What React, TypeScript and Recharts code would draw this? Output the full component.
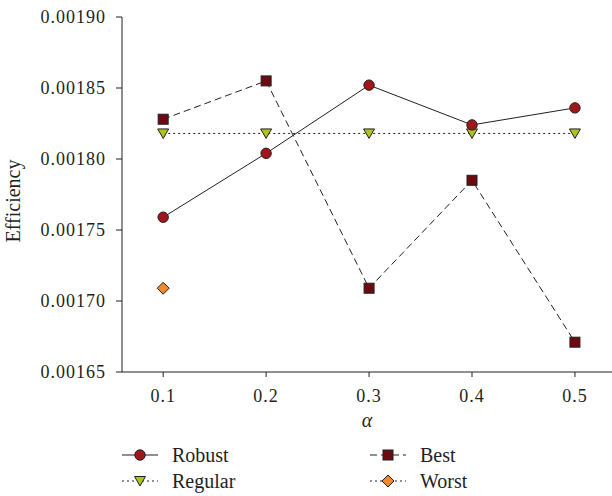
import React from 'react';
import { LineChart, Line, XAxis, YAxis, Legend } from 'recharts';

const alphas = [0.1, 0.2, 0.3, 0.4, 0.5];
const robust = [0.001759, 0.001804, 0.001852, 0.001824, 0.001836];
const best = [0.001828, 0.001855, 0.001709, 0.001785, 0.001671];
const regular = [0.001818, 0.001818, 0.001818, 0.001818, 0.001818];
const worst: (number | null)[] = [0.001709, null, null, null, null];
const yTicks = [0.00165, 0.0017, 0.00175, 0.0018, 0.00185, 0.0019];

const data = alphas.map((a, i) => ({ a, robust: robust[i], best: best[i], regular: regular[i], worst: worst[i] }));

const FONT = '"Liberation Serif", "Times New Roman", serif';
const TXT = '#231f20';
const C_ROBUST = '#a0161d';
const C_BEST = '#6d0a10';
const C_REG = '#aec31f';
const C_WORST = '#f0892a';

const Circle = ({ cx, cy }: any) => <circle cx={cx} cy={cy} r={5.2} fill={C_ROBUST} stroke={TXT} strokeWidth={1} />;
const Square = ({ cx, cy }: any) => <rect x={cx - 5} y={cy - 5} width={10} height={10} fill={C_BEST} stroke={TXT} strokeWidth={1} />;
const Tri = ({ cx, cy }: any) => (
  <polygon points={`${cx - 5.5},${cy - 4.5} ${cx + 5.5},${cy - 4.5} ${cx},${cy + 5}`} fill={C_REG} stroke={TXT} strokeWidth={1} />
);
const Diamond = ({ cx, cy }: any) => (
  <polygon points={`${cx},${cy - 6} ${cx + 6},${cy} ${cx},${cy + 6} ${cx - 6},${cy}`} fill={C_WORST} stroke={TXT} strokeWidth={1} />
);

const mkDot = (Shape: any) => (props: any) => {
  const { cx, cy, index, value } = props;
  if (cx == null || cy == null || value == null) return <g key={`e${index}`} />;
  return <Shape key={`d${index}`} cx={cx} cy={cy} />;
};

const LegendContent = () => {
  const row1 = 15;
  const row2 = 41;
  const item = (x0: number, y: number, dash: string | undefined, Shape: any, label: string) => (
    <g>
      <line x1={x0} x2={x0 + 36} y1={y} y2={y} stroke={TXT} strokeWidth={1} strokeDasharray={dash} />
      <Shape cx={x0 + 18} cy={y} />
      <text x={x0 + 50} y={y} dy="0.35em" fontSize={20} fontFamily={FONT} style={{ fontFamily: FONT }} fill={TXT}>{label}</text>
    </g>
  );
  return (
    <svg width={612} height={56} style={{ display: 'block', fontFamily: FONT }}>
      {item(122, row1, undefined, Circle, 'Robust')}
      {item(370, row1, '7 4', Square, 'Best')}
      {item(122, row2, '2 3', Tri, 'Regular')}
      {item(370, row2, '2 3', Diamond, 'Worst')}
    </svg>
  );
};

const tickStyle = { fill: TXT, fontSize: 18, fontFamily: FONT, letterSpacing: 1, style: { fontFamily: FONT } };

export default function App() {
  return (
    <div style={{ position: 'absolute', left: 0, top: 0, width: 612, height: 496, background: '#fff', fontFamily: FONT }}>
      <LineChart width={612} height={496} data={data} margin={{ top: 17, right: 0, left: 0, bottom: 0 }} style={{ fontFamily: FONT }}>
        <XAxis
          dataKey="a"
          type="number"
          domain={[0.06, 0.536]}
          ticks={alphas}
          allowDataOverflow
          height={68}
          tickSize={5}
          tickMargin={12}
          stroke={TXT}
          tick={tickStyle}
          tickFormatter={(v: number) => v.toFixed(1)}
          label={{
            content: () => (
              <text x={367} y={422} textAnchor="middle" dominantBaseline="middle" fontSize={20} fontStyle="italic" fontFamily={FONT} style={{ fontFamily: FONT }} fill={TXT}>
                α
              </text>
            ),
          }}
        />
        <YAxis
          type="number"
          domain={[0.00165, 0.0019]}
          ticks={yTicks}
          width={122}
          tickSize={6}
          tickMargin={10}
          stroke={TXT}
          tick={tickStyle}
          tickFormatter={(v: number) => v.toFixed(5)}
          label={{
            content: () => (
              <text x={15} y={201} transform="rotate(-90 15 201)" textAnchor="middle" dominantBaseline="middle" fontSize={20} fontFamily={FONT} style={{ fontFamily: FONT }} fill={TXT}>
                Efficiency
              </text>
            ),
          }}
        />
        <Legend content={<LegendContent />} wrapperStyle={{ position: 'absolute', left: 0, top: 440, width: 612, height: 56 }} />
        <Line dataKey="regular" stroke={TXT} strokeWidth={1} strokeDasharray="2 3" dot={mkDot(Tri)} activeDot={false} isAnimationActive={false} />
        <Line dataKey="worst" stroke={TXT} strokeWidth={1} strokeDasharray="2 3" dot={mkDot(Diamond)} activeDot={false} isAnimationActive={false} />
        <Line dataKey="robust" stroke={TXT} strokeWidth={1} dot={mkDot(Circle)} activeDot={false} isAnimationActive={false} />
        <Line dataKey="best" stroke={TXT} strokeWidth={1} strokeDasharray="7 4" dot={mkDot(Square)} activeDot={false} isAnimationActive={false} />
      </LineChart>
    </div>
  );
}
